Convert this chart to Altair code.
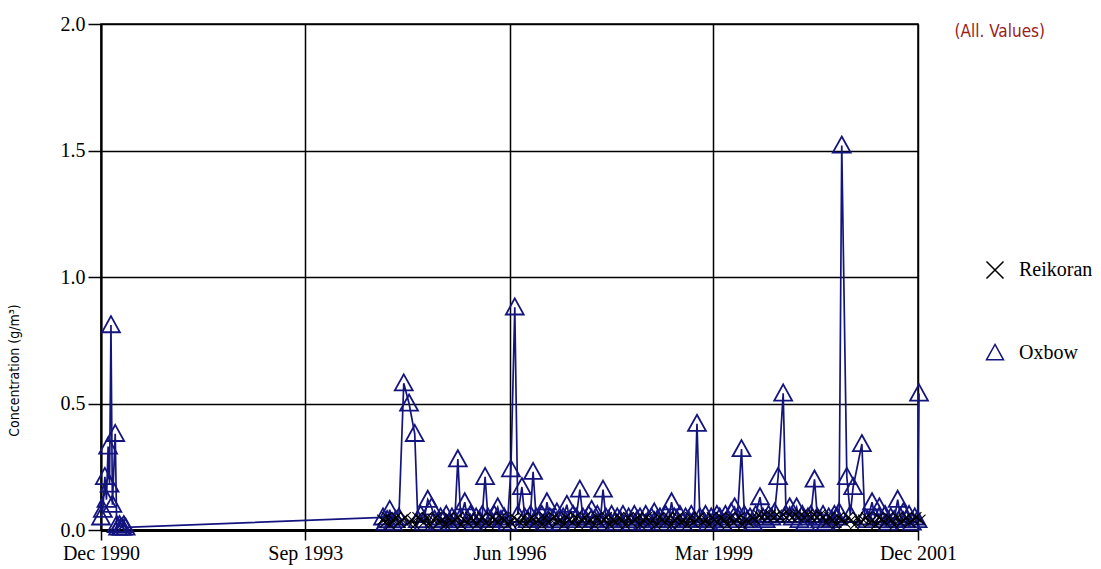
import altair as alt
import pandas as pd

# ---------------- data ----------------
oxbow_dates = [
    "1990-12-01", "1990-12-10", "1990-12-20", "1990-12-28", "1991-01-05", "1991-01-12",
    "1991-01-19", "1991-01-26", "1991-02-09", "1991-02-16", "1991-02-23", "1991-03-02",
    "1991-03-09", "1991-03-16", "1991-03-23", "1991-04-01",
    "1994-09-18", "1994-09-30", "1994-10-08", "1994-10-21", "1994-11-05", "1994-11-20",
    "1994-12-05", "1994-12-29", "1995-01-24", "1995-02-21", "1995-03-08", "1995-03-22",
    "1995-04-05", "1995-04-26", "1995-05-15", "1995-05-30", "1995-06-14", "1995-06-28",
    "1995-07-12", "1995-07-26", "1995-08-09", "1995-08-23", "1995-09-06", "1995-09-21",
    "1995-10-05", "1995-10-25", "1995-11-08", "1995-11-22", "1995-12-06", "1995-12-20",
    "1996-01-05", "1996-01-19", "1996-02-02", "1996-02-16", "1996-03-01", "1996-03-18",
    "1996-04-04", "1996-04-20", "1996-05-06", "1996-05-22", "1996-06-08", "1996-06-27",
    "1996-07-12", "1996-08-01", "1996-08-15", "1996-08-29", "1996-09-12", "1996-09-25",
    "1996-10-10", "1996-10-24", "1996-11-07", "1996-11-20", "1996-12-02", "1996-12-16",
    "1997-01-06", "1997-01-20", "1997-02-05", "1997-02-20", "1997-03-10", "1997-03-25",
    "1997-04-10", "1997-04-25", "1997-05-13", "1997-05-28", "1997-06-11", "1997-06-25",
    "1997-07-10", "1997-07-24", "1997-08-07", "1997-08-21", "1997-09-04", "1997-09-18",
    "1997-10-02", "1997-10-16", "1997-10-30", "1997-11-13", "1997-11-27", "1997-12-11",
    "1998-01-08", "1998-01-22", "1998-02-05", "1998-02-19", "1998-03-05", "1998-03-19",
    "1998-04-02", "1998-04-16", "1998-04-30", "1998-05-14", "1998-05-28", "1998-06-11",
    "1998-06-25", "1998-07-09", "1998-07-23", "1998-08-07", "1998-08-20", "1998-09-03",
    "1998-09-17", "1998-10-01", "1998-10-15", "1998-10-29", "1998-11-12", "1998-11-26",
    "1998-12-10", "1998-12-24", "1999-01-07", "1999-01-21", "1999-02-04", "1999-02-18",
    "1999-03-04", "1999-03-18", "1999-04-01", "1999-04-15", "1999-04-29", "1999-05-13",
    "1999-05-27", "1999-06-13", "1999-06-27", "1999-07-17", "1999-07-31", "1999-08-14",
    "1999-08-28", "1999-09-11", "1999-09-25", "1999-10-16", "1999-10-30", "1999-11-13",
    "1999-11-27", "1999-12-11", "1999-12-27", "2000-01-13", "2000-02-07", "2000-02-21",
    "2000-03-10", "2000-03-25", "2000-04-13", "2000-04-27", "2000-05-11", "2000-05-25",
    "2000-06-08", "2000-06-22", "2000-07-10", "2000-07-24", "2000-08-07", "2000-08-21",
    "2000-09-04", "2000-09-18", "2000-10-02", "2000-10-16", "2000-10-30", "2000-11-08",
    "2000-11-21", "2000-12-16", "2001-01-02", "2001-01-16", "2001-02-28", "2001-03-14",
    "2001-03-28", "2001-04-19", "2001-05-03", "2001-05-25", "2001-06-08", "2001-06-22",
    "2001-07-06", "2001-07-20", "2001-08-06", "2001-08-23", "2001-09-06", "2001-09-20",
    "2001-10-04", "2001-10-18", "2001-11-01", "2001-11-15", "2001-11-29", "2001-12-06",
]
oxbow_values = [
    0.05, 0.08, 0.21, 0.12, 0.33, 0.18,
    0.81, 0.10, 0.38, 0.02, 0.01, 0.02,
    0.01, 0.01, 0.02, 0.01,
    0.05, 0.03, 0.04, 0.08, 0.03, 0.04,
    0.05, 0.58, 0.50, 0.38, 0.04, 0.06,
    0.03, 0.12, 0.09, 0.04, 0.03, 0.05,
    0.04, 0.06, 0.03, 0.05, 0.04, 0.28,
    0.05, 0.11, 0.04, 0.06, 0.03, 0.05,
    0.04, 0.06, 0.21, 0.05, 0.04, 0.06,
    0.09, 0.04, 0.05, 0.03, 0.24, 0.88,
    0.06, 0.17, 0.05, 0.04, 0.06, 0.23,
    0.05, 0.04, 0.06, 0.03, 0.11, 0.05,
    0.04, 0.07, 0.03, 0.05, 0.10, 0.04,
    0.06, 0.05, 0.16, 0.05, 0.04, 0.06,
    0.08, 0.04, 0.06, 0.03, 0.16, 0.05,
    0.04, 0.06, 0.03, 0.05, 0.04, 0.06,
    0.05, 0.03, 0.06, 0.04, 0.05, 0.03,
    0.06, 0.04, 0.05, 0.07, 0.04, 0.05,
    0.03, 0.06, 0.04, 0.11, 0.05, 0.04,
    0.06, 0.03, 0.05, 0.04, 0.06, 0.04,
    0.42, 0.05, 0.04, 0.06, 0.03, 0.05,
    0.04, 0.06, 0.05, 0.03, 0.06, 0.04,
    0.07, 0.09, 0.05, 0.32, 0.06, 0.04,
    0.05, 0.03, 0.06, 0.13, 0.05, 0.04,
    0.06, 0.05, 0.07, 0.21, 0.54, 0.06,
    0.09, 0.05, 0.09, 0.04, 0.06, 0.03,
    0.05, 0.06, 0.20, 0.05, 0.04, 0.06,
    0.03, 0.05, 0.04, 0.06, 0.05, 0.07,
    1.52, 0.21, 0.06, 0.17, 0.34, 0.05,
    0.04, 0.11, 0.05, 0.09, 0.04, 0.06,
    0.03, 0.05, 0.04, 0.12, 0.05, 0.07,
    0.04, 0.06, 0.03, 0.05, 0.04, 0.54,
]

reikoran_dates = [
    "1994-09-15", "1994-09-29", "1994-10-07", "1994-10-22", "1994-11-07", "1994-11-22", "1994-12-07", "1994-12-22",
    "1995-01-07", "1995-01-22", "1995-02-07", "1995-02-22", "1995-03-07", "1995-03-22", "1995-04-07", "1995-04-22",
    "1995-05-07", "1995-05-22", "1995-06-07", "1995-06-22", "1995-07-07", "1995-07-22", "1995-08-07", "1995-08-22",
    "1995-09-07", "1995-09-22", "1995-10-07", "1995-10-22", "1995-11-07", "1995-11-22", "1995-12-07", "1995-12-22",
    "1996-01-07", "1996-01-22", "1996-02-07", "1996-02-22", "1996-03-07", "1996-03-22", "1996-04-07", "1996-04-22",
    "1996-05-07", "1996-05-22", "1996-06-07", "1996-06-22", "1996-07-07", "1996-07-22", "1996-08-07", "1996-08-22",
    "1996-09-07", "1996-09-22", "1996-10-07", "1996-10-22", "1996-11-07", "1996-11-22", "1996-12-07", "1996-12-22",
    "1997-01-07", "1997-01-22", "1997-02-07", "1997-02-22", "1997-03-07", "1997-03-22", "1997-04-07", "1997-04-22",
    "1997-05-07", "1997-05-22", "1997-06-07", "1997-06-22", "1997-07-07", "1997-07-22", "1997-08-07", "1997-08-22",
    "1997-09-07", "1997-09-22", "1997-10-07", "1997-10-22", "1997-11-07", "1997-11-22", "1997-12-07", "1997-12-22",
    "1998-01-07", "1998-01-22", "1998-02-07", "1998-02-22", "1998-03-07", "1998-03-22", "1998-04-07", "1998-04-22",
    "1998-05-07", "1998-05-22", "1998-06-07", "1998-06-22", "1998-07-07", "1998-07-22", "1998-08-07", "1998-08-22",
    "1998-09-07", "1998-09-22", "1998-10-07", "1998-10-22", "1998-11-07", "1998-11-22", "1998-12-07", "1998-12-22",
    "1999-01-07", "1999-01-22", "1999-02-07", "1999-02-22", "1999-03-07", "1999-03-22", "1999-04-07", "1999-04-22",
    "1999-05-07", "1999-05-22", "1999-06-07", "1999-06-22", "1999-07-07", "1999-07-22", "1999-08-07", "1999-08-22",
    "1999-09-07", "1999-09-22", "1999-10-07", "1999-10-22", "1999-11-07", "1999-11-22", "1999-12-07", "1999-12-22",
    "2000-01-07", "2000-01-22", "2000-02-07", "2000-02-22", "2000-03-07", "2000-03-22", "2000-04-07", "2000-04-22",
    "2000-05-07", "2000-05-22", "2000-06-07", "2000-06-22", "2000-07-07", "2000-07-22", "2000-08-07", "2000-08-22",
    "2000-09-07", "2000-09-22", "2000-10-07", "2000-10-22", "2000-11-07", "2000-11-22", "2000-12-07", "2000-12-22",
    "2001-01-07", "2001-01-22", "2001-02-07", "2001-02-22", "2001-03-07", "2001-03-22", "2001-04-07", "2001-04-22",
    "2001-05-07", "2001-05-22", "2001-06-07", "2001-06-22", "2001-07-07", "2001-07-22", "2001-08-07", "2001-08-22",
    "2001-09-07", "2001-09-22", "2001-10-07", "2001-10-22", "2001-11-07", "2001-11-22", "2001-12-12",
]
reikoran_values = [
    0.04, 0.03, 0.05, 0.02, 0.04, 0.05, 0.03, 0.04,
    0.05, 0.03, 0.04, 0.02, 0.05, 0.04, 0.03, 0.05,
    0.02, 0.04, 0.05, 0.03, 0.04, 0.02, 0.05, 0.03,
    0.04, 0.05, 0.02, 0.04, 0.03, 0.05, 0.04, 0.02,
    0.04, 0.05, 0.03, 0.02, 0.05, 0.04, 0.03, 0.05,
    0.04, 0.02, 0.03, 0.05, 0.04, 0.03, 0.05, 0.02,
    0.04, 0.05, 0.03, 0.04, 0.02, 0.05, 0.03, 0.04,
    0.05, 0.03, 0.04, 0.02, 0.05, 0.04, 0.03, 0.05,
    0.02, 0.04, 0.05, 0.03, 0.04, 0.02, 0.05, 0.03,
    0.04, 0.05, 0.02, 0.04, 0.03, 0.05, 0.04, 0.02,
    0.05, 0.03, 0.04, 0.05, 0.02, 0.04, 0.05, 0.03,
    0.04, 0.02, 0.05, 0.04, 0.03, 0.05, 0.02, 0.04,
    0.05, 0.03, 0.04, 0.02, 0.05, 0.03, 0.04, 0.05,
    0.03, 0.04, 0.02, 0.05, 0.04, 0.03, 0.05, 0.04,
    0.02, 0.05, 0.03, 0.04, 0.05, 0.02, 0.04, 0.03,
    0.05, 0.04, 0.06, 0.05, 0.06, 0.05, 0.06, 0.05,
    0.06, 0.05, 0.06, 0.05, 0.06, 0.05, 0.06, 0.05,
    0.06, 0.05, 0.06, 0.05, 0.06, 0.05, 0.06, 0.05,
    0.03, 0.05, 0.04, 0.02, 0.05, 0.04, 0.03, 0.05,
    0.04, 0.02, 0.05, 0.03, 0.04, 0.05, 0.03, 0.04,
    0.02, 0.05, 0.04, 0.03, 0.05, 0.04, 0.02, 0.05,
    0.03, 0.04, 0.05, 0.03, 0.04, 0.05, 0.04,
]

series_names = ["Reikoran", "Oxbow"]
series_colors = ["#000000", "#14147f"]
series_shapes = ["M-1,-1L1,1M-1,1L1,-1", "M0,-1L1,0.8L-1,0.8Z"]

x_tick_dates = [(1990, 12), (1993, 9), (1996, 6), (1999, 3), (2001, 12)]
y_ticks = [0.0, 0.5, 1.0, 1.5, 2.0]

# ---------------- table ----------------
df = pd.concat([
    pd.DataFrame({"date": reikoran_dates, "value": reikoran_values, "series": "Reikoran"}),
    pd.DataFrame({"date": oxbow_dates, "value": oxbow_values, "series": "Oxbow"}),
], ignore_index=True)

x_values = [alt.DateTime(year=y, month=m, date=1, utc=True) for y, m in x_tick_dates]

x_enc = alt.X(
    "date:T",
    scale=alt.Scale(type="utc", domain=[x_values[0], x_values[-1]]),
    axis=alt.Axis(values=x_values, format="%b %Y", title=None, grid=True,
                  tickSize=10, domainWidth=3, tickWidth=1.5, gridWidth=1.5,
                  labelPadding=3, labelFlush=False),
)
y_enc = alt.Y(
    "value:Q",
    scale=alt.Scale(domain=[0, 2]),
    axis=alt.Axis(values=y_ticks, format=".1f", title="Concentration (g/m³)",
                  tickSize=13, domainWidth=2, tickWidth=1.5, gridWidth=1.5,
                  labelPadding=3, titleFont="DejaVu Sans Condensed", titleFontSize=14,
                  titleFontWeight="normal", titleAngle=270, titleX=-80, titleY=346,
                  titleColor="black"),
)
legend_opts = dict(title=None, orient="none", legendX=884, legendY=236, padding=0,
                   rowPadding=59, labelFont="Liberation Serif", labelFontSize=20,
                   labelColor="black", labelOffset=14, symbolSize=290,
                   symbolStrokeWidth=1.5, symbolFillColor="transparent")
color_enc = alt.Color("series:N", scale=alt.Scale(domain=series_names, range=series_colors),
                      legend=alt.Legend(**legend_opts))
shape_enc = alt.Shape("series:N", scale=alt.Scale(domain=series_names, range=series_shapes),
                      legend=alt.Legend(**legend_opts))

base = alt.Chart(df)

ox_line = base.transform_filter(alt.datum.series == "Oxbow").mark_line(
    strokeWidth=1.7, color="#14147f"
).encode(x=x_enc, y=y_enc, order="date:T")
ox_pts = base.transform_filter(alt.datum.series == "Oxbow").mark_point(
    filled=False, strokeWidth=1.8, size=320, opacity=1
).encode(x=x_enc, y=y_enc, color=color_enc, shape=shape_enc)
re_line = base.transform_filter(alt.datum.series == "Reikoran").mark_line(
    strokeWidth=1, color="black"
).encode(x=x_enc, y=y_enc, order="date:T")
re_pts = base.transform_filter(alt.datum.series == "Reikoran").mark_point(
    filled=False, strokeWidth=1.1, size=110, opacity=1
).encode(x=x_enc, y=y_enc, color=color_enc, shape=shape_enc)

chart = alt.layer(ox_line, ox_pts, re_line, re_pts).properties(
    width=817,
    height=506,
    background="white",
    autosize=alt.AutoSizeParams(type="none"),
    padding={"left": 101, "top": 24, "right": 183, "bottom": 39},
    title=alt.TitleParams("(All. Values)", anchor="end", frame="group", orient="top",
                          font="DejaVu Sans Condensed", fontSize=17, fontWeight="normal",
                          color="#9a1c1c", baseline="middle", dx=127, dy=35, offset=0),
).configure_axis(
    labelFont="Liberation Serif",
    labelFontSize=20,
    labelColor="black",
    tickColor="black",
    domainColor="black",
    gridColor="black",
    gridOpacity=1,
).configure_view(
    stroke="black",
    strokeWidth=1.5,
)

chart.save("out.html", embed_options={"renderer": "svg", "actions": False})
